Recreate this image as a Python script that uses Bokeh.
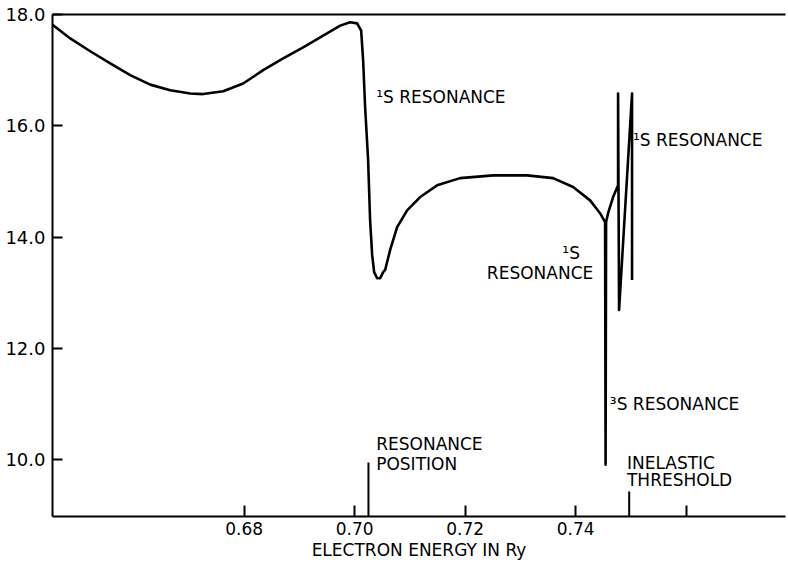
from bokeh.plotting import figure
from bokeh.models import (ColumnDataSource, FixedTicker, NumeralTickFormatter,
                          LinearAxis, Range1d)
from bokeh.core.properties import value
from bokeh.embed import file_html
from bokeh.resources import INLINE

# ---- data ----
energy = [0.64525, 0.64851, 0.65213, 0.65575, 0.65937, 0.66299, 0.66661,
          0.67023, 0.67258, 0.67620, 0.67982, 0.68344, 0.68706, 0.69068,
          0.69430, 0.69738, 0.69919, 0.70045, 0.70118, 0.70154, 0.70190,
          0.70244, 0.70280, 0.70317, 0.70353, 0.70407, 0.70462, 0.70516,
          0.70552, 0.70643, 0.70769, 0.70950, 0.71186, 0.71493, 0.71909,
          0.72507, 0.73122, 0.73593, 0.73955, 0.74262, 0.74443, 0.74534,
          0.74543, 0.74552, 0.74588, 0.74679, 0.74769, 0.74769, 0.74787,
          0.75022, 0.75022]
cross_section = [17.82, 17.57, 17.34, 17.12, 16.91, 16.74, 16.64,
                 16.58, 16.57, 16.62, 16.76, 17.00, 17.21, 17.41,
                 17.62, 17.80, 17.86, 17.84, 17.71, 17.17, 16.33,
                 15.38, 14.30, 13.68, 13.37, 13.26, 13.26, 13.37,
                 13.41, 13.77, 14.18, 14.48, 14.72, 14.93, 15.06,
                 15.11, 15.11, 15.06, 14.90, 14.66, 14.43, 14.27,
                 9.91, 14.27, 14.43, 14.72, 14.93, 16.58, 12.69,
                 16.58, 13.23]

x_ticks = [0.68, 0.70, 0.72, 0.74]
x_minor_ticks = [0.76]
y_ticks = [10.0, 12.0, 14.0, 16.0, 18.0]

resonance_position = 0.7025
resonance_marker_top = 9.95
inelastic_threshold = 0.7497
threshold_marker_top = 9.43

label_text = ["¹S RESONANCE", "¹S RESONANCE", "¹S", "RESONANCE",
              "³S RESONANCE", "RESONANCE", "POSITION", "INELASTIC", "THRESHOLD"]
label_x = [0.7039, 0.7504, 0.7376, 0.7432, 0.7462, 0.7039, 0.7039, 0.7493, 0.7493]
label_y = [16.51, 15.74, 13.71, 13.35, 11.00, 10.29, 9.93, 9.95, 9.63]
label_align = ["left", "left", "left", "right", "left", "left", "left", "left", "left"]

FONT = "DejaVu Sans"

p = figure(width=788, height=562, output_backend="svg", toolbar_location=None,
           x_range=Range1d(0.6453, 0.7780), y_range=Range1d(8.98, 18.0),
           min_border_left=52, min_border_right=3, min_border_top=14,
           min_border_bottom=45, x_axis_label="ELECTRON ENERGY IN Ry")
p.outline_line_color = None
p.grid.visible = False
p.background_fill_color = "white"
p.border_fill_color = "white"

# main curve
p.line(energy, cross_section, line_color="black", line_width=2.6,
       line_join="round")

# marker segments
p.segment(x0=[resonance_position, inelastic_threshold],
          y0=[8.98, 8.98],
          x1=[resonance_position, inelastic_threshold],
          y1=[resonance_marker_top, threshold_marker_top],
          line_color="black", line_width=2)

# annotations
src = ColumnDataSource(dict(text=label_text, x=label_x, y=label_y, align=label_align))
p.text(x="x", y="y", text="text", source=src, text_align="align",
       text_baseline="middle", text_font=value(FONT), text_font_size="17px",
       text_color="black")

# x axis
xa = p.xaxis[0]
xa.ticker = FixedTicker(ticks=x_ticks, minor_ticks=x_minor_ticks)
xa.formatter = NumeralTickFormatter(format="0.00")
xa.major_tick_in = 11
xa.major_tick_out = 0
xa.minor_tick_in = 11
xa.minor_tick_out = 0
xa.major_tick_line_width = 2
xa.minor_tick_line_width = 2
xa.axis_line_width = 2
xa.major_label_text_font = FONT
xa.major_label_text_font_size = "17px"
xa.major_label_text_color = "black"
xa.major_label_standoff = 5
xa.axis_label_text_font = FONT
xa.axis_label_text_font_size = "17px"
xa.axis_label_text_font_style = "normal"
xa.axis_label_text_color = "black"
xa.axis_label_standoff = 2

# y axis
ya = p.yaxis[0]
ya.ticker = FixedTicker(ticks=y_ticks, minor_ticks=[])
ya.formatter = NumeralTickFormatter(format="0.0")
ya.major_tick_in = 10
ya.major_tick_out = 0
ya.major_tick_line_width = 2
ya.minor_tick_line_color = None
ya.axis_line_width = 2
ya.major_label_text_font = FONT
ya.major_label_text_font_size = "18px"
ya.major_label_text_color = "black"
ya.major_label_standoff = 7

# top frame line
top = LinearAxis(ticker=FixedTicker(ticks=[], minor_ticks=[]),
                 major_label_text_font_size="0px", axis_line_width=2,
                 major_tick_line_color=None, minor_tick_line_color=None)
p.add_layout(top, "above")

open("out.html", "w").write(file_html(p, INLINE))
